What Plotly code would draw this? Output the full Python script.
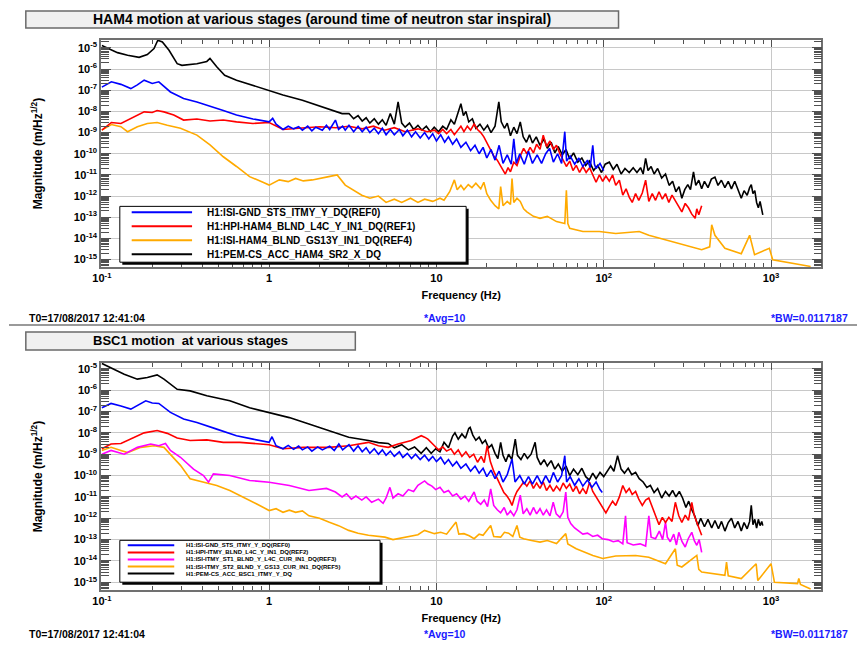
import plotly.graph_objects as go

W, H = 857, 646
FONT = "Liberation Sans, Arial, Helvetica, sans-serif"

# ---------------- HAM4 spectra: (frequency [Hz], ASD [m/sqrt(Hz)]) ----------------
ham4_gnd = [
    (0.1, 1.4e-7), (0.114, 2.5e-7), (0.13, 1.9e-7), (0.149, 1.2e-7), (0.163, 1.8e-7),
    (0.179, 3.0e-7), (0.2, 2.1e-7), (0.219, 2.5e-7), (0.257, 8.3e-8), (0.308, 4.1e-8),
    (0.37, 2.8e-8), (0.443, 1.7e-8), (0.532, 1.1e-8), (0.638, 6.8e-9), (0.8, 4.4e-9),
    (1.0, 3.2e-9), (1.05, 4.7e-9), (1.1, 2.5e-9), (1.21, 1.4e-9), (1.3, 2.0e-9),
    (1.4, 1.5e-9), (1.5, 1.9e-9), (1.58, 1.3e-9), (1.7, 2.0e-9), (1.8, 1.2e-9),
    (1.9, 1.8e-9), (2.08, 1.3e-9), (2.2, 2.2e-9), (2.3, 1.4e-9), (2.49, 3.9e-9),
    (2.6, 1.4e-9), (2.75, 2.0e-9), (2.85, 1.3e-9),
    (3.0, 2.2e-9), (3.2, 1.1e-9), (3.4, 2.0e-9), (3.6, 1.1e-9), (3.8, 1.8e-9),
    (4.0, 1.0e-9), (4.25, 1.6e-9), (4.5, 8.9e-10), (4.75, 1.6e-9), (5.0, 7.9e-10),
    (5.3, 1.4e-9), (5.6, 7.9e-10), (6.0, 1.4e-9), (6.3, 7.1e-10), (6.7, 1.3e-9),
    (7.1, 6.3e-10), (7.5, 1.1e-9), (8.0, 5.6e-10), (8.5, 1.0e-9), (9.0, 5.0e-10),
    (9.5, 8.9e-10), (10.0, 4.0e-10), (10.6, 7.9e-10), (11.2, 3.5e-10), (11.8, 6.3e-10),
    (12.5, 2.8e-10), (13.2, 5.0e-10), (14.0, 2.0e-10), (15.0, 3.5e-10), (16.0, 1.4e-10),
    (17.0, 2.5e-10), (18.0, 1.0e-10), (19.0, 2.0e-10), (20.0, 6.3e-11), (21.2, 1.6e-10),
    (22.4, 5.0e-11), (23.7, 2.5e-10), (25.0, 3.5e-11), (26.5, 8.9e-11), (28.0, 3.2e-11),
    (29.0, 5.0e-10), (30.0, 3.5e-11), (31.5, 1.0e-10), (33.5, 3.2e-11), (35.5, 1.3e-10),
    (37.5, 3.5e-11), (40.0, 8.9e-11), (42.5, 3.5e-11), (45.0, 1.0e-10), (47.5, 1.8e-10),
    (50.0, 4.0e-11), (53.0, 1.0e-10), (56.0, 3.5e-11), (58.5, 1.1e-9), (60.0, 4.5e-11),
    (63.0, 7.9e-11), (67.0, 3.2e-11), (71.0, 6.3e-11), (75.0, 2.5e-11), (80.0, 5.0e-11),
    (83.0, 2.2e-11), (86.0, 2.5e-10), (88.0, 3.2e-11), (90.0, 2.0e-11), (95.0, 3.5e-11),
    (100.0, 1.6e-11),
]

ham4_l4c = [
    (0.1, 1.3e-9), (0.114, 3.0e-9), (0.13, 2.7e-9), (0.149, 4.7e-9), (0.179, 9.5e-9),
    (0.2, 8.9e-9), (0.214, 1.1e-8), (0.235, 9.5e-9), (0.269, 6.8e-9), (0.308, 3.9e-9),
    (0.37, 4.4e-9), (0.443, 3.5e-9), (0.532, 3.9e-9), (0.638, 3.2e-9), (0.8, 2.7e-9),
    (1.0, 3.0e-9), (1.21, 1.4e-9), (1.5, 1.6e-9), (2.0, 1.9e-9), (2.5, 1.7e-9),
    (3.0, 2.0e-9), (3.6, 1.5e-9), (4.2, 2.0e-9), (4.9, 1.3e-9), (5.6, 1.7e-9),
    (6.5, 1.1e-9), (7.75, 1.5e-9), (8.8, 1.1e-9), (9.73, 1.3e-9),
    (10.3, 8.9e-10), (10.9, 1.4e-9), (11.5, 8.9e-10), (12.2, 1.4e-9), (12.8, 7.9e-10),
    (13.4, 1.3e-9), (14.0, 2.0e-9), (14.6, 1.1e-9), (15.3, 2.0e-9), (16.0, 1.3e-9),
    (16.8, 2.5e-9), (17.6, 1.4e-9), (18.4, 1.0e-9), (19.2, 6.3e-10), (20.1, 3.2e-10),
    (21.1, 1.6e-10), (22.0, 7.9e-11), (23.1, 5.0e-11), (24.2, 2.5e-11), (25.2, 1.6e-11),
    (25.8, 1.1e-11), (26.8, 2.2e-11), (27.7, 1.4e-11), (29.0, 4.0e-11), (30.3, 2.8e-11),
    (31.7, 7.9e-11), (33.2, 1.8e-10), (34.7, 1.0e-10), (36.3, 2.0e-10), (38.0, 1.1e-10),
    (39.7, 2.8e-10), (41.6, 1.6e-10), (43.5, 7.6e-10), (45.5, 2.2e-10), (47.7, 4.0e-10),
    (50.0, 1.6e-10), (52.2, 2.5e-10), (54.7, 1.0e-10), (57.2, 5.0e-11), (59.8, 2.5e-11),
    (62.6, 4.5e-11), (65.5, 1.6e-11), (68.5, 2.8e-11), (71.7, 1.3e-11), (75.0, 2.5e-11),
    (78.5, 1.3e-11), (82.3, 2.2e-11), (86.0, 1.0e-11), (90.0, 4.5e-12), (94.2, 1.0e-11),
    (98.6, 5.0e-12), (103.0, 8.9e-12), (108.0, 5.0e-12), (113.0, 1.0e-11), (118.0, 3.2e-12),
    (124.0, 5.6e-12), (130.0, 1.1e-12), (136.0, 2.2e-12), (142.0, 8.9e-13), (148.0, 5.0e-13),
    (155.0, 1.3e-12), (162.0, 6.3e-13), (170.0, 1.4e-12), (178.0, 5.6e-12), (186.0, 5.6e-13),
    (195.0, 1.3e-12), (204.0, 6.3e-13), (214.0, 1.6e-12), (224.0, 7.1e-13), (234.0, 1.3e-12),
    (245.0, 5.0e-13), (256.0, 1.1e-12), (268.0, 6.3e-13), (281.0, 3.2e-13), (293.0, 1.8e-13),
    (307.0, 4.5e-13), (321.0, 2.8e-13), (336.0, 1.4e-13), (352.0, 8.9e-14), (360.0, 2.5e-13),
    (370.0, 1.3e-13), (385.0, 3.5e-13),
]

ham4_gs13 = [
    (0.1, 1.3e-9), (0.114, 2.4e-9), (0.13, 1.9e-9), (0.1425, 1.1e-9), (0.163, 1.9e-9),
    (0.187, 2.7e-9), (0.214, 3.0e-9), (0.246, 2.2e-9), (0.295, 1.6e-9), (0.37, 7.6e-10),
    (0.443, 2.6e-10), (0.532, 7.2e-11), (0.638, 2.5e-11), (0.764, 8.3e-12), (0.918, 4.5e-12),
    (1.0, 3.3e-12), (1.15, 5.8e-12), (1.3, 4.8e-12), (1.44, 6.8e-12), (1.6, 5.2e-12),
    (1.81, 5.8e-12), (2.0, 7.0e-12), (2.27, 8.3e-12), (2.55, 1.0e-11), (2.85, 3.3e-12),
    (3.58, 1.1e-12), (4.0, 7.9e-13), (4.5, 1.0e-12), (5.0, 5.0e-13), (5.6, 7.1e-13),
    (6.2, 5.0e-13), (7.0, 7.9e-13), (7.75, 5.0e-13), (8.5, 7.1e-13), (9.5, 5.6e-13),
    (10.5, 7.9e-13), (11.1, 6.3e-13), (12.0, 1.6e-12), (12.8, 5.8e-12), (13.3, 2.0e-12),
    (14.0, 3.2e-12), (14.6, 2.0e-12), (15.5, 3.5e-12), (16.3, 2.5e-12), (17.2, 4.0e-12),
    (18.4, 2.2e-12), (19.2, 4.5e-12), (20.0, 1.3e-12), (21.1, 6.3e-13), (22.4, 3.5e-13),
    (23.6, 2.5e-13), (24.2, 2.8e-12), (25.0, 3.5e-13), (26.5, 5.6e-13), (27.7, 4.0e-13),
    (28.3, 6.8e-12), (29.0, 5.0e-13), (30.3, 7.9e-13), (31.7, 5.6e-13), (33.2, 2.5e-13),
    (34.7, 1.8e-13), (38.0, 1.1e-13), (41.6, 8.9e-14), (46.0, 1.1e-13), (52.2, 6.2e-14),
    (58.5, 5.0e-14), (59.8, 1.9e-12), (61.0, 5.0e-14), (62.6, 3.0e-14), (75.1, 2.1e-14),
    (94.2, 2.1e-14), (118.0, 1.7e-14), (163.0, 2.1e-14), (186.0, 1.4e-14), (256.0, 7.1e-15),
    (385.0, 2.9e-15), (430.0, 4.0e-15), (442.0, 4.4e-14), (462.0, 1.4e-14), (530.0, 3.4e-15),
    (664.0, 1.9e-15), (745.0, 1.4e-14), (797.0, 1.7e-15), (978.0, 3.4e-15), (1023.0, 9.8e-16),
    (1313.0, 6.8e-16), (1725.0, 4.7e-16),
]

ham4_acc = [
    (0.1, 1.3e-5), (0.124, 6.0e-6), (0.1425, 4.5e-6), (0.167, 3.6e-6), (0.187, 4.9e-6),
    (0.205, 9.3e-6), (0.216, 2.3e-5), (0.23, 1.9e-5), (0.252, 7.8e-6), (0.282, 1.8e-6),
    (0.301, 1.5e-6), (0.37, 1.8e-6), (0.424, 2.3e-6), (0.443, 3.2e-6), (0.486, 1.3e-6),
    (0.542, 5.1e-7), (0.638, 3.0e-7), (0.801, 1.7e-7), (1.0, 9.1e-8), (1.21, 5.9e-8),
    (1.58, 3.4e-8), (2.08, 1.7e-8), (2.73, 7.9e-9),
    (3.0, 7.9e-9), (3.2, 4.5e-9), (3.4, 6.3e-9), (3.6, 3.5e-9), (3.8, 5.0e-9),
    (4.0, 2.8e-9), (4.25, 4.5e-9), (4.5, 2.5e-9), (4.75, 4.0e-9), (5.0, 2.2e-9),
    (5.3, 7.9e-9), (5.6, 2.5e-9), (5.9, 2.8e-8), (6.2, 2.8e-9), (6.5, 1.8e-9),
    (6.9, 2.8e-9), (7.3, 1.4e-9), (7.75, 2.2e-9), (8.2, 1.3e-9), (8.7, 2.0e-9),
    (9.2, 1.1e-9), (9.7, 1.8e-9), (10.3, 1.1e-9), (10.9, 2.0e-9), (11.5, 1.4e-9),
    (12.2, 4.0e-9), (12.8, 2.5e-9), (13.4, 8.9e-9), (14.0, 2.3e-8), (14.5, 6.3e-9),
    (15.0, 1.0e-8), (15.6, 3.2e-9), (16.4, 4.5e-9), (17.2, 1.6e-9), (18.2, 2.5e-9),
    (19.2, 1.3e-9), (20.2, 2.2e-9), (21.2, 1.0e-9), (22.4, 2.0e-9), (23.6, 2.8e-8),
    (24.4, 3.2e-9), (25.5, 1.6e-9), (26.5, 2.8e-9), (27.7, 7.1e-10), (29.0, 1.8e-9),
    (30.3, 8.9e-10), (31.7, 3.2e-9), (33.0, 6.3e-10), (34.5, 3.5e-10), (36.0, 7.9e-10),
    (37.5, 3.2e-10), (39.5, 6.3e-10), (41.6, 2.5e-10), (44.0, 5.0e-10), (46.0, 1.8e-10),
    (48.5, 3.5e-10), (51.0, 1.1e-10), (53.5, 2.2e-10), (56.5, 8.9e-11), (59.5, 1.6e-10),
    (62.6, 5.6e-11), (66.0, 1.1e-10), (70.0, 4.0e-11), (74.0, 6.3e-11), (78.0, 2.8e-11),
    (82.0, 4.5e-11), (87.0, 1.6e-11), (92.0, 2.8e-11), (97.0, 1.3e-11), (102.0, 3.2e-11),
    (108.0, 4.0e-11), (114.0, 1.8e-11), (120.0, 3.2e-11), (127.0, 1.1e-11), (134.0, 2.0e-11),
    (142.0, 1.3e-11), (150.0, 2.2e-11), (158.0, 1.3e-11), (166.0, 2.2e-11), (172.0, 1.1e-11),
    (178.0, 6.0e-11), (184.0, 1.6e-11), (192.0, 2.5e-11), (200.0, 1.1e-11), (210.0, 2.0e-11),
    (222.0, 7.1e-12), (234.0, 1.1e-11), (246.0, 3.2e-12), (258.0, 5.0e-12), (270.0, 1.6e-12),
    (282.0, 2.8e-12), (293.0, 7.9e-13), (305.0, 2.0e-12), (318.0, 3.5e-12), (330.0, 2.0e-12),
    (344.0, 1.4e-11), (355.0, 3.2e-12), (370.0, 5.6e-12), (385.0, 2.2e-12), (400.0, 5.0e-12),
    (420.0, 2.5e-12), (440.0, 6.3e-12), (462.0, 7.9e-12), (482.0, 3.2e-12), (505.0, 5.6e-12),
    (530.0, 2.5e-12), (555.0, 5.0e-12), (580.0, 2.2e-12), (607.0, 5.0e-12), (635.0, 2.0e-12),
    (664.0, 7.9e-13), (690.0, 1.8e-12), (720.0, 1.1e-12), (745.0, 2.5e-12), (762.0, 3.5e-12),
    (780.0, 1.3e-12), (800.0, 1.8e-12), (820.0, 5.0e-13), (840.0, 2.8e-13), (860.0, 5.6e-13),
    (880.0, 2.0e-13), (893.0, 1.3e-13),
]

# ---------------- BSC1 spectra: (frequency [Hz], ASD [m/sqrt(Hz)]) ----------------
bsc1_gnd = [
    (0.1, 1.5e-7), (0.1135, 2.4e-7), (0.13, 1.8e-7), (0.149, 1.3e-7), (0.183, 3.2e-7),
    (0.2, 2.5e-7), (0.219, 2.4e-7), (0.257, 9.1e-8), (0.308, 4.5e-8), (0.37, 3.1e-8),
    (0.486, 1.5e-8), (0.638, 7.4e-9), (0.8, 5.1e-9), (1.0, 3.6e-9), (1.04, 6.6e-9),
    (1.1, 2.5e-9), (1.21, 1.8e-9), (1.3, 2.6e-9), (1.4, 1.7e-9), (1.5, 2.4e-9),
    (1.58, 1.6e-9), (1.7, 2.2e-9), (1.8, 1.4e-9), (1.95, 2.2e-9), (2.08, 1.6e-9),
    (2.3, 2.4e-9), (2.45, 1.5e-9), (2.61, 3.0e-9), (2.75, 1.6e-9), (2.9, 2.2e-9),
    (3.0, 2.8e-9), (3.2, 1.4e-9), (3.4, 2.5e-9), (3.6, 1.3e-9), (3.8, 2.0e-9),
    (4.0, 1.1e-9), (4.25, 1.8e-9), (4.5, 1.0e-9), (4.75, 1.6e-9), (5.0, 8.9e-10),
    (5.3, 1.4e-9), (5.6, 7.9e-10), (6.0, 1.3e-9), (6.3, 7.1e-10), (6.7, 1.1e-9),
    (7.1, 6.3e-10), (7.5, 1.0e-9), (8.0, 5.6e-10), (8.5, 8.9e-10), (9.0, 5.0e-10),
    (9.5, 7.9e-10), (10.0, 4.5e-10), (10.6, 7.1e-10), (11.2, 3.5e-10), (11.8, 5.6e-10),
    (12.5, 2.8e-10), (13.2, 4.5e-10), (14.0, 2.2e-10), (15.0, 3.5e-10), (16.0, 1.6e-10),
    (17.0, 2.8e-10), (18.0, 1.3e-10), (19.0, 2.2e-10), (20.0, 8.9e-11), (21.2, 1.8e-10),
    (22.4, 7.1e-11), (23.7, 1.6e-10), (25.0, 5.0e-11), (26.5, 1.1e-10), (28.3, 6.0e-10),
    (29.5, 5.0e-11), (31.5, 1.0e-10), (33.5, 4.0e-11), (35.5, 8.9e-11), (37.5, 4.0e-11),
    (40.0, 1.0e-10), (42.5, 4.0e-11), (45.0, 1.0e-10), (47.5, 4.5e-11), (50.0, 1.4e-10),
    (53.0, 5.0e-11), (56.0, 1.0e-10), (58.5, 8.5e-10), (60.0, 5.0e-11), (63.0, 8.9e-11),
    (67.0, 3.5e-11), (71.0, 7.1e-11), (75.0, 3.2e-11), (80.0, 6.3e-11), (85.0, 2.8e-11),
    (90.0, 5.0e-11), (95.0, 2.2e-11), (98.0, 1.6e-11),
]

bsc1_hpi = [
    (0.1, 1.8e-9), (0.1135, 3.0e-9), (0.13, 3.2e-9), (0.149, 5.1e-9), (0.179, 1.0e-8),
    (0.214, 1.3e-8), (0.246, 9.5e-9), (0.282, 5.8e-9), (0.337, 4.4e-9), (0.424, 4.7e-9),
    (0.532, 3.6e-9), (0.668, 3.6e-9), (0.838, 3.0e-9), (1.0, 2.8e-9), (1.21, 1.8e-9),
    (1.6, 2.1e-9), (2.27, 2.1e-9), (3.0, 2.5e-9), (3.92, 3.6e-9), (4.5, 2.5e-9),
    (5.15, 2.1e-9), (5.9, 3.0e-9), (7.08, 4.4e-9), (8.11, 7.4e-9), (8.5, 6.3e-9),
    (8.89, 5.1e-9),
    (9.73, 2.5e-9), (10.3, 1.6e-9), (10.9, 2.2e-9), (11.5, 1.4e-9), (12.2, 1.8e-9),
    (12.8, 1.0e-9), (13.5, 1.6e-9), (14.2, 7.9e-10), (15.0, 1.3e-9), (15.8, 7.1e-10),
    (16.7, 1.0e-9), (17.6, 4.2e-10), (18.5, 7.9e-10), (19.3, 4.0e-10), (20.1, 2.5e-9),
    (21.0, 4.5e-10), (22.0, 1.6e-10), (23.1, 7.1e-11), (24.2, 3.2e-11), (25.3, 1.6e-11),
    (26.4, 1.1e-11), (27.4, 7.1e-12), (28.3, 4.0e-12), (29.3, 1.0e-11), (30.3, 1.8e-11),
    (31.7, 3.2e-11), (33.2, 5.0e-11), (34.7, 3.2e-11), (36.3, 5.6e-11), (38.0, 2.5e-11),
    (39.7, 4.5e-11), (41.6, 2.5e-11), (43.5, 5.0e-11), (45.5, 2.0e-11), (47.7, 3.5e-11),
    (50.0, 1.8e-11), (52.2, 3.2e-11), (54.7, 2.0e-11), (57.2, 4.5e-11), (59.8, 2.5e-11),
    (62.6, 4.0e-11), (65.5, 1.8e-11), (68.5, 3.2e-11), (71.7, 1.4e-11), (75.0, 2.5e-11),
    (78.5, 1.4e-11), (82.3, 4.9e-11), (86.0, 1.8e-11), (90.0, 1.0e-11), (94.2, 5.0e-12),
    (98.6, 3.2e-12), (103.0, 1.8e-12), (108.0, 3.5e-12), (113.0, 6.3e-12), (118.0, 4.0e-12),
    (124.0, 1.0e-11), (130.0, 3.4e-11), (136.0, 1.6e-11), (142.0, 2.5e-11), (148.0, 1.3e-11),
    (155.0, 1.8e-11), (162.0, 7.9e-12), (170.0, 4.0e-12), (178.0, 7.1e-12), (186.0, 8.9e-12),
    (195.0, 3.2e-12), (204.0, 1.4e-12), (214.0, 5.0e-13), (224.0, 1.1e-12), (234.0, 6.3e-13),
    (245.0, 1.1e-12), (256.0, 7.1e-13), (268.0, 5.6e-12), (281.0, 1.3e-12), (293.0, 6.3e-13),
    (307.0, 1.4e-12), (321.0, 7.9e-13), (336.0, 5.6e-12), (348.0, 1.3e-12), (360.0, 6.3e-13),
    (372.0, 3.2e-13), (385.0, 1.6e-13),
]

bsc1_st1 = [
    (0.1, 1.0e-9), (0.1135, 1.5e-9), (0.136, 1.0e-9), (0.163, 2.1e-9), (0.196, 3.0e-9),
    (0.219, 2.5e-9), (0.24, 3.2e-9), (0.257, 1.5e-9), (0.295, 7.2e-10), (0.353, 2.0e-10),
    (0.405, 1.0e-10), (0.434, 4.9e-11), (0.464, 1.2e-10), (0.582, 1.0e-10), (0.764, 5.9e-11),
    (1.0, 4.9e-11), (1.32, 3.4e-11), (1.73, 2.0e-11), (2.2, 2.5e-11), (2.49, 1.7e-11),
    (2.73, 1.0e-11), (2.9, 1.4e-11), (3.1, 7.9e-12), (3.3, 1.1e-11), (3.58, 7.1e-12),
    (3.8, 1.0e-11), (4.1, 5.6e-12), (4.5, 7.9e-12), (4.8, 5.0e-12), (5.0, 8.9e-12),
    (5.27, 2.8e-11), (5.5, 8.9e-12), (5.9, 1.4e-11), (6.3, 1.1e-11), (6.8, 2.2e-11),
    (7.3, 1.8e-11), (7.75, 3.5e-11), (8.2, 4.5e-11), (8.5, 5.6e-11), (8.9, 4.0e-11),
    (9.4, 3.2e-11), (9.9, 2.2e-11), (10.5, 2.8e-11), (11.1, 1.6e-11), (11.8, 2.0e-11),
    (12.5, 1.1e-11), (13.2, 1.4e-11), (14.0, 7.9e-12), (14.8, 1.1e-11), (15.6, 6.3e-12),
    (16.8, 1.7e-11), (17.5, 6.3e-12), (18.4, 4.5e-12), (19.3, 7.1e-12), (20.2, 3.5e-12),
    (21.1, 2.4e-11), (22.0, 4.0e-12), (23.1, 2.5e-12), (24.2, 1.8e-12), (25.4, 3.2e-12),
    (26.5, 1.4e-12), (27.7, 2.2e-12), (29.0, 1.3e-12), (30.3, 2.5e-12), (31.7, 1.2e-11),
    (33.0, 1.6e-12), (34.7, 2.8e-12), (36.3, 1.4e-12), (38.0, 3.2e-12), (39.7, 1.6e-12),
    (41.6, 2.8e-12), (43.5, 1.4e-12), (45.5, 2.5e-12), (47.7, 1.3e-12), (49.9, 5.6e-12),
    (52.0, 1.6e-12), (54.7, 1.1e-12), (57.2, 2.0e-12), (59.3, 1.7e-11), (61.0, 1.1e-12),
    (63.5, 5.6e-13), (67.0, 3.5e-13), (71.0, 2.5e-13), (75.0, 1.8e-13), (80.0, 2.0e-13),
    (86.0, 1.4e-13), (92.0, 1.6e-13), (98.0, 1.1e-13), (106.0, 1.0e-13), (114.0, 7.9e-14),
    (122.0, 8.9e-14), (130.0, 6.3e-14), (135.0, 1.3e-12), (138.0, 7.1e-14), (150.0, 5.6e-14),
    (165.0, 6.3e-14), (178.0, 5.0e-14), (186.0, 1.3e-12), (192.0, 1.3e-13), (204.0, 1.1e-13),
    (215.0, 2.5e-13), (225.0, 1.0e-13), (234.0, 6.6e-13), (240.0, 1.3e-13), (250.0, 7.9e-14),
    (262.0, 1.8e-13), (272.0, 5.6e-14), (281.0, 2.2e-13), (294.0, 7.9e-14), (307.0, 4.5e-14),
    (320.0, 1.1e-13), (336.0, 2.2e-13), (348.0, 8.9e-14), (360.0, 5.4e-14), (372.0, 1.0e-13),
    (385.0, 2.5e-14),
]

bsc1_st2 = [
    (0.1, 1.5e-9), (0.1135, 2.1e-9), (0.13, 1.5e-9), (0.1425, 1.2e-9), (0.171, 2.1e-9),
    (0.205, 2.5e-9), (0.235, 2.1e-9), (0.257, 1.0e-9), (0.295, 3.0e-10), (0.337, 7.1e-11),
    (0.405, 4.9e-11), (0.486, 3.4e-11), (0.582, 2.0e-11), (0.699, 1.0e-11), (0.838, 4.8e-12),
    (1.0, 2.3e-12), (1.1, 2.8e-12), (1.21, 1.9e-12), (1.32, 2.4e-12), (1.44, 1.9e-12),
    (1.58, 2.2e-12), (1.73, 1.3e-12), (2.0, 1.0e-12), (2.27, 6.6e-13), (2.6, 4.5e-13),
    (2.99, 2.7e-13), (3.4, 2.0e-13), (3.92, 1.6e-13), (4.4, 1.4e-13), (4.92, 1.3e-13),
    (5.5, 1.0e-13), (6.18, 1.2e-13), (6.9, 1.4e-13), (7.75, 1.7e-13), (8.49, 2.7e-13),
    (9.73, 1.9e-13), (10.6, 2.2e-13), (11.5, 1.8e-13), (13.1, 6.6e-13), (13.6, 1.8e-13),
    (14.6, 1.9e-13), (15.7, 1.5e-13), (16.8, 1.1e-13), (18.0, 1.8e-13), (19.0, 1.6e-13),
    (21.1, 4.6e-13), (22.0, 1.4e-13), (24.2, 1.3e-13), (25.5, 2.2e-13), (27.0, 2.0e-13),
    (28.6, 1.4e-13), (30.3, 4.6e-13), (31.5, 1.3e-13), (33.2, 1.1e-13), (37.0, 9.0e-14),
    (41.6, 7.6e-14), (46.0, 9.0e-14), (52.2, 6.5e-14), (59.3, 1.9e-13), (61.0, 6.3e-14),
    (68.5, 3.7e-14), (76.0, 2.6e-14), (86.1, 1.8e-14), (98.6, 1.3e-14), (118.0, 1.7e-14),
    (155.0, 1.8e-14), (186.0, 1.5e-14), (234.0, 7.4e-15), (268.0, 3.7e-14), (275.0, 6.3e-15),
    (293.0, 5.2e-15), (360.0, 1.8e-14), (370.0, 4.0e-15), (385.0, 3.0e-15), (530.0, 2.1e-15),
    (542.0, 8.9e-15), (555.0, 2.0e-15), (664.0, 1.5e-15), (815.0, 7.4e-15), (834.0, 1.2e-15),
    (1000.0, 7.4e-15), (1048.0, 1.0e-15), (1440.0, 8.7e-16), (1466.0, 1.5e-15), (1500.0, 7.9e-16),
    (1725.0, 4.8e-16),
]

bsc1_acc = [
    (0.1, 1.8e-5), (0.1135, 1.1e-5), (0.136, 5.6e-6), (0.163, 3.3e-6), (0.187, 3.9e-6),
    (0.214, 5.2e-6), (0.235, 3.3e-6), (0.282, 1.1e-6), (0.337, 9.3e-7), (0.424, 5.5e-7),
    (0.582, 3.2e-7), (0.764, 1.5e-7), (1.0, 9.1e-8), (1.32, 5.2e-8), (1.73, 2.6e-8),
    (2.27, 1.3e-8), (2.99, 6.2e-9), (3.92, 4.4e-9), (4.5, 3.5e-9),
    (5.15, 3.2e-9), (5.6, 2.0e-9), (6.2, 2.8e-9), (6.8, 1.6e-9), (7.4, 2.2e-9),
    (8.1, 1.1e-9), (8.7, 2.0e-9), (9.3, 1.1e-9), (9.9, 1.8e-9), (10.5, 1.3e-9),
    (11.1, 3.6e-9), (11.8, 2.0e-9), (12.5, 7.1e-9), (12.9, 1.0e-8), (13.5, 5.0e-9),
    (14.2, 8.9e-9), (14.9, 5.6e-9), (15.6, 1.6e-8), (15.9, 1.8e-8), (16.5, 7.9e-9),
    (17.2, 4.5e-9), (18.0, 6.3e-9), (18.8, 3.2e-9), (19.6, 4.5e-9), (20.5, 2.0e-9),
    (21.4, 2.8e-9), (22.4, 1.1e-9), (23.3, 6.3e-10), (24.2, 3.6e-9), (25.0, 8.9e-10),
    (26.0, 4.5e-10), (27.0, 1.0e-9), (28.2, 5.6e-10), (29.6, 5.1e-9), (30.5, 8.9e-10),
    (32.0, 5.6e-10), (33.5, 1.1e-9), (35.0, 6.3e-10), (36.8, 1.0e-9), (38.9, 3.6e-9),
    (40.0, 7.1e-10), (42.0, 3.2e-10), (44.0, 5.6e-10), (46.0, 2.8e-10), (48.5, 5.0e-10),
    (51.0, 2.0e-10), (53.5, 3.5e-10), (56.5, 1.6e-10), (59.5, 2.8e-10), (62.6, 1.0e-10),
    (66.0, 2.0e-10), (70.0, 1.1e-10), (74.0, 2.2e-10), (78.0, 8.9e-11), (82.0, 6.3e-11),
    (86.0, 1.3e-10), (90.0, 7.1e-11), (95.0, 1.4e-10), (100.0, 8.9e-11), (105.0, 1.6e-10),
    (110.0, 2.8e-10), (115.0, 1.6e-10), (121.0, 8.5e-10), (127.0, 2.0e-10), (133.0, 1.3e-10),
    (140.0, 2.2e-10), (147.0, 1.1e-10), (155.0, 1.4e-10), (163.0, 7.1e-11), (172.0, 5.0e-11),
    (181.0, 2.8e-11), (190.0, 3.5e-11), (200.0, 1.6e-11), (210.0, 2.5e-11), (222.0, 8.9e-12),
    (234.0, 1.8e-11), (246.0, 1.1e-11), (258.0, 2.0e-11), (270.0, 1.0e-11), (283.0, 1.8e-11),
    (296.0, 8.9e-12), (310.0, 3.2e-12), (322.0, 6.3e-12), (336.0, 2.5e-12), (350.0, 1.3e-12),
    (365.0, 4.5e-13), (380.0, 1.0e-12), (400.0, 4.0e-13), (420.0, 8.9e-13), (442.0, 3.5e-13),
    (462.0, 7.9e-13), (485.0, 3.2e-13), (506.0, 7.1e-13), (530.0, 2.5e-13), (555.0, 6.3e-13),
    (580.0, 1.0e-12), (607.0, 3.5e-13), (635.0, 7.1e-13), (664.0, 2.5e-13), (690.0, 6.3e-13),
    (720.0, 3.2e-13), (745.0, 7.1e-13), (762.0, 4.0e-12), (780.0, 5.0e-13), (800.0, 8.9e-13),
    (820.0, 3.5e-13), (840.0, 8.9e-13), (860.0, 4.5e-13), (880.0, 7.1e-13), (893.0, 4.5e-13),
]

# channel names, in legend order, with colours
ham4_channels = [
    ("H1:ISI-GND_STS_ITMY_Y_DQ(REF0)", ham4_gnd, "#0000ff"),
    ("H1:HPI-HAM4_BLND_L4C_Y_IN1_DQ(REF1)", ham4_l4c, "#ff0000"),
    ("H1:ISI-HAM4_BLND_GS13Y_IN1_DQ(REF4)", ham4_gs13, "#ffaa00"),
    ("H1:PEM-CS_ACC_HAM4_SR2_X_DQ", ham4_acc, "#000000"),
]
bsc1_channels = [
    ("H1:ISI-GND_STS_ITMY_Y_DQ(REF0)", bsc1_gnd, "#0000ff"),
    ("H1:HPI-ITMY_BLND_L4C_Y_IN1_DQ(REF2)", bsc1_hpi, "#ff0000"),
    ("H1:ISI-ITMY_ST1_BLND_Y_L4C_CUR_IN1_DQ(REF3)", bsc1_st1, "#ff00ff"),
    ("H1:ISI-ITMY_ST2_BLND_Y_GS13_CUR_IN1_DQ(REF5)", bsc1_st2, "#ffaa00"),
    ("H1:PEM-CS_ACC_BSC1_ITMY_Y_DQ", bsc1_acc, "#000000"),
]

x_ticks = [0.1, 1, 10, 100, 1000]
x_ticktext = ["10<sup>-1</sup>", "1", "10", "10<sup>2</sup>", "10<sup>3</sup>"]
y_exponents = list(range(-5, -16, -1))


def px(x):
    return x / W


def py(y):
    return 1 - y / H


fig = go.Figure()

# draw the stacks back-to-front so the ground sensor sits on top
for chans, xa, ya in [(ham4_channels, "x", "y"), (bsc1_channels, "x2", "y2")]:
    for name, pairs, color in reversed(chans):
        f, a = zip(*pairs)
        fig.add_trace(go.Scatter(
            x=list(f), y=list(a), mode="lines", name=name,
            line=dict(color=color, width=1.6), xaxis=xa, yaxis=ya,
            showlegend=False,
        ))

minor_x = [m * 10.0 ** k for k in range(-1, 4) for m in range(2, 10) if m * 10.0 ** k < 2000]
minor_y = [m * 10.0 ** k for k in range(-16, -4) for m in range(2, 10)]

axis_common = dict(
    type="log", showline=True, linecolor="#707070", linewidth=1.5, mirror="allticks",
    ticks="inside", tickcolor="#505050", tickwidth=1, showgrid=True,
    gridcolor="#c8c8c8", gridwidth=1, zeroline=False,
    tickfont=dict(family=FONT, size=11, color="#000", weight="bold"),
)

x_dom = [93 / W, 821 / W]
panels = [
    ("xaxis", "yaxis", "x", "y", [1 - 266 / H, 1 - 38 / H], [-15.36, -4.62]),
    ("xaxis2", "yaxis2", "x2", "y2", [1 - 590 / H, 1 - 362 / H], [-15.37, -4.72]),
]
for xk, yk, xid, yid, ydom, yr in panels:
    fig.layout[xk] = dict(
        axis_common, domain=x_dom, range=[-1.005, 3.301], anchor=yid,
        tickmode="array", tickvals=x_ticks, ticktext=x_ticktext, ticklen=7,
        minor=dict(tickvals=minor_x, ticks="inside", ticklen=4, tickcolor="#505050", showgrid=False),
        title=dict(text="Frequency (Hz)", standoff=8,
                   font=dict(family=FONT, size=11, color="#000", weight="bold")),
    )
    fig.layout[yk] = dict(
        axis_common, domain=ydom, range=yr, anchor=xid,
        tickmode="array", tickvals=[10.0 ** e for e in y_exponents],
        ticktext=[f"10<sup>{e}</sup>" for e in y_exponents], ticklen=10,
        minor=dict(tickvals=minor_y, ticks="inside", ticklen=8, tickcolor="#505050", showgrid=False),
        title=dict(text="Magnitude (m/Hz<sup>1/2</sup>)", standoff=28,
                   font=dict(family=FONT, size=12, color="#000", weight="bold")),
    )

shapes = []
annotations = []


def text(x, y, s, size, color="#000", xanchor="left"):
    annotations.append(dict(
        xref="paper", yref="paper", x=px(x), y=py(y), text=s, showarrow=False,
        xanchor=xanchor, yanchor="middle",
        font=dict(family=FONT, size=size, color=color, weight="bold"),
    ))


def rect(x0, y0, x1, y1, fill, line, width=1):
    shapes.append(dict(type="rect", xref="paper", yref="paper",
                       x0=px(x0), x1=px(x1), y0=py(y1), y1=py(y0),
                       fillcolor=fill, line=dict(color=line, width=width), layer="above"))


def hline(x0, x1, y, color, width):
    shapes.append(dict(type="line", xref="paper", yref="paper",
                       x0=px(x0), x1=px(x1), y0=py(y), y1=py(y),
                       line=dict(color=color, width=width), layer="above"))


# panel titles in framed boxes
rect(17, 9, 616, 26, "#f0f0f0", "#6a6a6a", 1.5)
text(316, 17.5, "HAM4 motion at various stages (around time of neutron star inspiral)", 14, xanchor="center")
rect(17, 331, 350, 349, "#f0f0f0", "#6a6a6a", 1.5)
text(183, 340, "BSC1 motion  at various stages", 13, xanchor="center")

# divider between the two panels
hline(0, W, 324, "#9a9a9a", 2)

# run information lines
for y in (317, 634):
    text(18, y, "T0=17/08/2017 12:41:04", 10.5)
    text(417, y, "*Avg=10", 10.5, color="#1a1aff")
    text(768, y, "*BW=0.0117187", 10.5, color="#1a1aff")

# legends (box with drop shadow, coloured line sample, channel name)
legends = [
    (ham4_channels, (112, 205, 462, 261), 211, 14, (124, 185), 198, 10, 2),
    (bsc1_channels, (112, 540, 375, 582), 545, 7.1, (120, 167), 177, 6, 2),
]
for chans, (bx0, by0, bx1, by1), row0, dy, (lx0, lx1), tx, fs, lw in legends:
    rect(bx0 + 2.5, by0 + 2.5, bx1 + 2.5, by1 + 2.5, "#000", "#000", 0)
    rect(bx0, by0, bx1, by1, "#ffffff", "#000", 1)
    for i, (name, _, color) in enumerate(chans):
        yy = row0 + i * dy
        hline(lx0, lx1, yy, color, lw)
        text(tx, yy, name, fs)

fig.update_layout(
    width=W, height=H, margin=dict(l=0, r=0, t=0, b=0),
    paper_bgcolor="#ffffff", plot_bgcolor="#ffffff",
    font=dict(family=FONT, color="#000"),
    shapes=shapes, annotations=annotations, showlegend=False,
)

fig.write_html("out.html")
